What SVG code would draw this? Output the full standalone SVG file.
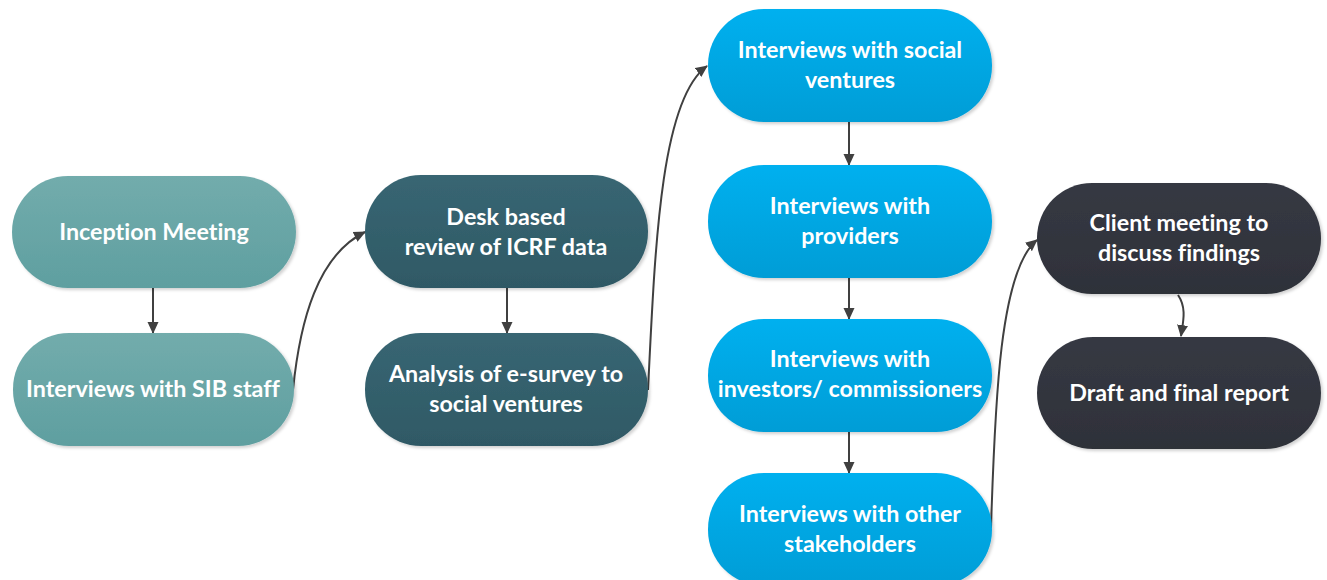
<svg xmlns="http://www.w3.org/2000/svg" width="1327" height="580" viewBox="0 0 1327 580">
<style>
text{font-family:"Lato","Open Sans","Liberation Sans",sans-serif;font-weight:bold;font-size:23.3px;fill:#ffffff;text-anchor:middle;font-variant-ligatures:none;font-feature-settings:"liga" 0,"dlig" 0}
.c{fill:none;stroke:#404040;stroke-width:2;marker-end:url(#ah)}
</style>
<defs>
<linearGradient id="g1" x1="0" y1="0" x2="0" y2="1"><stop offset="0" stop-color="#72acac"/><stop offset="1" stop-color="#5f9fa0"/></linearGradient>
<linearGradient id="g2" x1="0" y1="0" x2="0" y2="1"><stop offset="0" stop-color="#386673"/><stop offset="1" stop-color="#2f5965"/></linearGradient>
<linearGradient id="g3" x1="0" y1="0" x2="0" y2="1"><stop offset="0" stop-color="#00b0ef"/><stop offset="1" stop-color="#009dd6"/></linearGradient>
<linearGradient id="g4" x1="0" y1="0" x2="0" y2="1"><stop offset="0" stop-color="#363943"/><stop offset="1" stop-color="#2e3139"/></linearGradient>
<filter id="sh" x="-10%" y="-10%" width="130%" height="130%"><feDropShadow dx="2" dy="2" stdDeviation="1.5" flood-color="#000" flood-opacity="0.18"/></filter>
<marker id="ah" markerWidth="12" markerHeight="12" viewBox="0 0 12 12" refX="11" refY="6" orient="auto" markerUnits="userSpaceOnUse"><path d="M0,0.5 L12,6 L0,11.5 z" fill="#404040"/></marker>
</defs>
<g id="connectors">
<path class="c" d="M153,288 L153,333"/>
<path class="c" d="M293,390 C300,320 318,255 365,232"/>
<path class="c" d="M507,288 L507,333"/>
<path class="c" d="M648,390 C655,250 660,100 707,66"/>
<path class="c" d="M849,122 L849,165"/>
<path class="c" d="M849,278 L849,319"/>
<path class="c" d="M849,432 L849,473"/>
<path class="c" d="M991,528 C995,400 1000,270 1037,240"/>
<path class="c" d="M1178,295 C1187,308 1183,322 1181,336"/>
</g>
<g id="n1"><rect x="12" y="176" width="284" height="112" rx="56" fill="url(#g1)" filter="url(#sh)"/><text x="154" y="240">Inception Meeting</text></g>
<g id="n2"><rect x="13" y="333" width="281" height="113" rx="56" fill="url(#g1)" filter="url(#sh)"/><text x="153" y="397">Interviews with SIB staff</text></g>
<g id="n3"><rect x="365" y="175" width="283" height="113" rx="56" fill="url(#g2)" filter="url(#sh)"/><text x="506" y="225">Desk based</text><text x="506" y="255">review of ICRF data</text></g>
<g id="n4"><rect x="365" y="333" width="283" height="113" rx="56" fill="url(#g2)" filter="url(#sh)"/><text x="506" y="382">Analysis of e-survey to</text><text x="506" y="412">social ventures</text></g>
<g id="n5"><rect x="708" y="9" width="284" height="113" rx="56" fill="url(#g3)" filter="url(#sh)"/><text x="850" y="58">Interviews with social</text><text x="850" y="88">ventures</text></g>
<g id="n6"><rect x="708" y="165" width="284" height="113" rx="56" fill="url(#g3)" filter="url(#sh)"/><text x="850" y="214">Interviews with</text><text x="850" y="244">providers</text></g>
<g id="n7"><rect x="708" y="319" width="284" height="113" rx="56" fill="url(#g3)" filter="url(#sh)"/><text x="850" y="367">Interviews with</text><text x="850" y="397">investors/ commissioners</text></g>
<g id="n8"><rect x="708" y="473" width="284" height="113" rx="56" fill="url(#g3)" filter="url(#sh)"/><text x="850" y="522">Interviews with other</text><text x="850" y="552">stakeholders</text></g>
<g id="n9"><rect x="1037" y="183" width="284" height="111" rx="55" fill="url(#g4)" filter="url(#sh)"/><text x="1179" y="231">Client meeting to</text><text x="1179" y="261">discuss findings</text></g>
<g id="n10"><rect x="1037" y="337" width="284" height="112" rx="56" fill="url(#g4)" filter="url(#sh)"/><text x="1179" y="401">Draft and final report</text></g>
</svg>
